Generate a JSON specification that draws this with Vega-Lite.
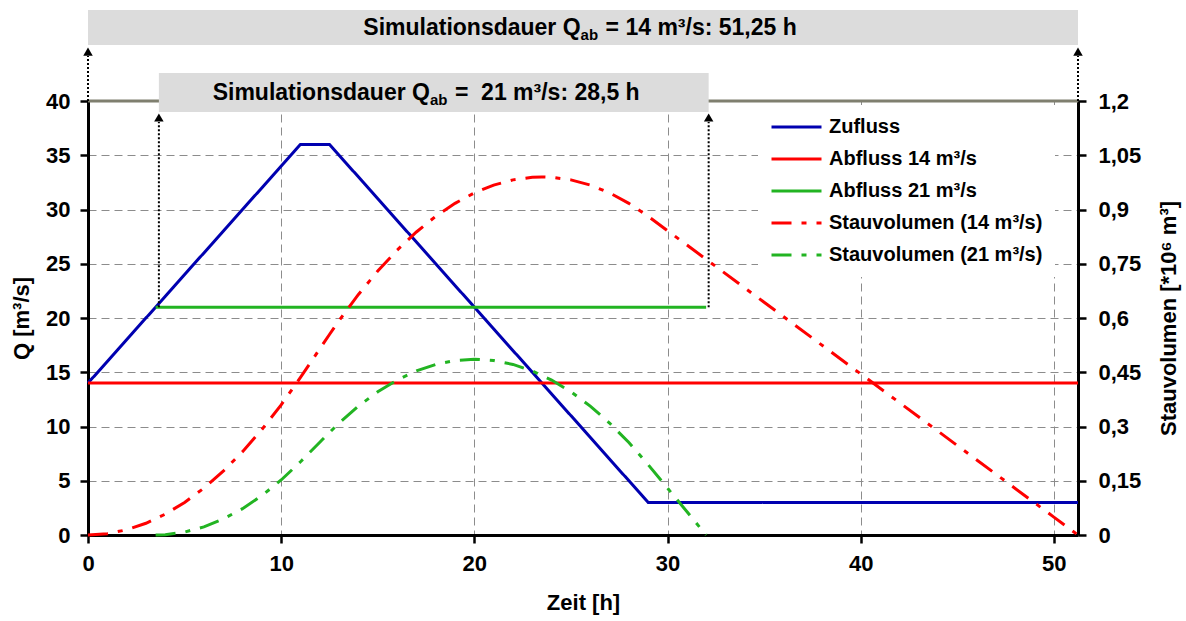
{
"$schema":"https://vega.github.io/schema/vega-lite/v6.json",
"width":990,"height":434,
"autosize":{"type":"none"},
"padding":{"left":88,"top":101,"right":108,"bottom":86},
"background":"white",
"config":{
  "view":{"stroke":null},
  "font":"Liberation Sans",
  "axis":{"labelFont":"Liberation Sans","labelFontSize":22,"labelFontWeight":"bold","labelColor":"black","labelFlush":false,"titleFont":"Liberation Sans","titleFontSize":22,"titleFontWeight":"bold","titleColor":"black","domainColor":"black","domainWidth":3,"tickColor":"black","tickWidth":2.5,"tickSize":8,"gridColor":"#8c8c8c","gridDash":[8,5],"gridWidth":1,"labelPadding":10}
},
"datasets":{
  "q":[
    {"t":0,"Q":14,"s":"Zufluss"},{"t":11,"Q":36,"s":"Zufluss"},{"t":12.5,"Q":36,"s":"Zufluss"},{"t":29,"Q":3,"s":"Zufluss"},{"t":51.25,"Q":3,"s":"Zufluss"},
    {"t":0,"Q":14,"s":"Abfluss 14 m³/s"},{"t":51.25,"Q":14,"s":"Abfluss 14 m³/s"},
    {"t":3.5,"Q":21,"s":"Abfluss 21 m³/s"},{"t":32,"Q":21,"s":"Abfluss 21 m³/s"}
  ],
  "v":[
    {"t":0,"V":0,"s":"Stauvolumen (14 m³/s)"},{"t":1,"V":0.0036,"s":"Stauvolumen (14 m³/s)"},{"t":2,"V":0.0144,"s":"Stauvolumen (14 m³/s)"},{"t":3,"V":0.0324,"s":"Stauvolumen (14 m³/s)"},{"t":4,"V":0.0576,"s":"Stauvolumen (14 m³/s)"},{"t":5,"V":0.09,"s":"Stauvolumen (14 m³/s)"},{"t":6,"V":0.1296,"s":"Stauvolumen (14 m³/s)"},{"t":7,"V":0.1764,"s":"Stauvolumen (14 m³/s)"},{"t":8,"V":0.2304,"s":"Stauvolumen (14 m³/s)"},{"t":9,"V":0.2916,"s":"Stauvolumen (14 m³/s)"},{"t":10,"V":0.36,"s":"Stauvolumen (14 m³/s)"},{"t":11,"V":0.4356,"s":"Stauvolumen (14 m³/s)"},{"t":12,"V":0.5148,"s":"Stauvolumen (14 m³/s)"},{"t":12.5,"V":0.5544,"s":"Stauvolumen (14 m³/s)"},{"t":13,"V":0.5931,"s":"Stauvolumen (14 m³/s)"},{"t":14,"V":0.6651,"s":"Stauvolumen (14 m³/s)"},{"t":15,"V":0.7299,"s":"Stauvolumen (14 m³/s)"},{"t":16,"V":0.7875,"s":"Stauvolumen (14 m³/s)"},{"t":17,"V":0.8379,"s":"Stauvolumen (14 m³/s)"},{"t":18,"V":0.8811,"s":"Stauvolumen (14 m³/s)"},{"t":19,"V":0.9171,"s":"Stauvolumen (14 m³/s)"},{"t":20,"V":0.9459,"s":"Stauvolumen (14 m³/s)"},{"t":21,"V":0.9675,"s":"Stauvolumen (14 m³/s)"},{"t":22,"V":0.9819,"s":"Stauvolumen (14 m³/s)"},{"t":23,"V":0.9891,"s":"Stauvolumen (14 m³/s)"},{"t":23.5,"V":0.99,"s":"Stauvolumen (14 m³/s)"},{"t":24,"V":0.9891,"s":"Stauvolumen (14 m³/s)"},{"t":25,"V":0.9819,"s":"Stauvolumen (14 m³/s)"},{"t":26,"V":0.9675,"s":"Stauvolumen (14 m³/s)"},{"t":27,"V":0.9459,"s":"Stauvolumen (14 m³/s)"},{"t":28,"V":0.9171,"s":"Stauvolumen (14 m³/s)"},{"t":29,"V":0.8811,"s":"Stauvolumen (14 m³/s)"},{"t":35,"V":0.6435,"s":"Stauvolumen (14 m³/s)"},{"t":40,"V":0.4455,"s":"Stauvolumen (14 m³/s)"},{"t":45,"V":0.2475,"s":"Stauvolumen (14 m³/s)"},{"t":50,"V":0.0495,"s":"Stauvolumen (14 m³/s)"},{"t":51.25,"V":0,"s":"Stauvolumen (14 m³/s)"},
    {"t":3.5,"V":0,"s":"Stauvolumen (21 m³/s)"},{"t":4,"V":0.0009,"s":"Stauvolumen (21 m³/s)"},{"t":5,"V":0.0081,"s":"Stauvolumen (21 m³/s)"},{"t":6,"V":0.0225,"s":"Stauvolumen (21 m³/s)"},{"t":7,"V":0.0441,"s":"Stauvolumen (21 m³/s)"},{"t":8,"V":0.0729,"s":"Stauvolumen (21 m³/s)"},{"t":9,"V":0.1089,"s":"Stauvolumen (21 m³/s)"},{"t":10,"V":0.1521,"s":"Stauvolumen (21 m³/s)"},{"t":11,"V":0.2025,"s":"Stauvolumen (21 m³/s)"},{"t":12,"V":0.2565,"s":"Stauvolumen (21 m³/s)"},{"t":12.5,"V":0.2835,"s":"Stauvolumen (21 m³/s)"},{"t":13,"V":0.3096,"s":"Stauvolumen (21 m³/s)"},{"t":14,"V":0.3564,"s":"Stauvolumen (21 m³/s)"},{"t":15,"V":0.396,"s":"Stauvolumen (21 m³/s)"},{"t":16,"V":0.4284,"s":"Stauvolumen (21 m³/s)"},{"t":17,"V":0.4536,"s":"Stauvolumen (21 m³/s)"},{"t":18,"V":0.4716,"s":"Stauvolumen (21 m³/s)"},{"t":19,"V":0.4824,"s":"Stauvolumen (21 m³/s)"},{"t":20,"V":0.486,"s":"Stauvolumen (21 m³/s)"},{"t":21,"V":0.4824,"s":"Stauvolumen (21 m³/s)"},{"t":22,"V":0.4716,"s":"Stauvolumen (21 m³/s)"},{"t":23,"V":0.4536,"s":"Stauvolumen (21 m³/s)"},{"t":24,"V":0.4284,"s":"Stauvolumen (21 m³/s)"},{"t":25,"V":0.396,"s":"Stauvolumen (21 m³/s)"},{"t":26,"V":0.3564,"s":"Stauvolumen (21 m³/s)"},{"t":27,"V":0.3096,"s":"Stauvolumen (21 m³/s)"},{"t":28,"V":0.2556,"s":"Stauvolumen (21 m³/s)"},{"t":29,"V":0.1944,"s":"Stauvolumen (21 m³/s)"},{"t":30,"V":0.1296,"s":"Stauvolumen (21 m³/s)"},{"t":31,"V":0.0648,"s":"Stauvolumen (21 m³/s)"},{"t":32,"V":0,"s":"Stauvolumen (21 m³/s)"}
  ],
  "banners":[
    {"x1":0,"x2":51.25,"y1":45.16,"y2":48.39,"tx":25.5,"ty":46.77,"a":"Simulationsdauer Q","b":"ab","c":"= 14 m³/s: 51,25 h"},
    {"x1":3.67,"x2":32.13,"y1":38.99,"y2":42.58,"tx":17.7,"ty":40.78,"a":"Simulationsdauer Q","b":"ab","c":"=\u00a0\u00a021 m³/s: 28,5 h"}
  ],
  "arrows":[
    {"x":0,"y1":40,"y2":44.15,"ya":44.56},
    {"x":51.25,"y1":40,"y2":44.15,"ya":44.56},
    {"x":3.67,"y1":21,"y2":38.06,"ya":38.48},
    {"x":32.13,"y1":21,"y2":38.06,"ya":38.48}
  ],
  "top":[{"Q":40}]
},
"layer":[
 {"layer":[
   {"data":{"name":"q"},
    "mark":{"type":"line","strokeWidth":3},
    "encoding":{
      "x":{"field":"t","type":"quantitative","scale":{"domain":[0,51.25],"nice":false,"zero":false},
           "axis":{"title":"Zeit [h]","values":[0,10,20,30,40,50],"grid":true,"titlePadding":18}},
      "y":{"field":"Q","type":"quantitative","scale":{"domain":[0,40],"nice":false},
           "axis":{"title":"Q [m³/s]","values":[0,5,10,15,20,25,30,35,40],"grid":true,"titlePadding":12}},
      "color":{"field":"s","type":"nominal","scale":{"domain":["Zufluss","Abfluss 14 m³/s","Abfluss 21 m³/s","Stauvolumen (14 m³/s)","Stauvolumen (21 m³/s)"],"range":["#0000b0","#ff0000","#22b422","#ff0000","#22b422"]},
               "legend":{"title":null,"orient":"none","legendX":670,"legendY":4,"fillColor":"white","padding":12,"symbolType":"stroke","symbolSize":2500,"symbolStrokeWidth":3,"clipHeight":20,"labelFont":"Liberation Sans","labelFontSize":20,"labelFontWeight":"bold","labelColor":"black","labelLimit":400,"rowPadding":12,"labelOffset":6}},
      "strokeDash":{"field":"s","type":"nominal","scale":{"domain":["Zufluss","Abfluss 14 m³/s","Abfluss 21 m³/s","Stauvolumen (14 m³/s)","Stauvolumen (21 m³/s)"],"range":[[1,0],[1,0],[1,0],[20,10,5,10],[20,10,5,10]]},
               "legend":{"title":null,"orient":"none","legendX":670,"legendY":4,"fillColor":"white","padding":12,"symbolType":"stroke","symbolSize":2500,"symbolStrokeWidth":3,"clipHeight":20,"labelFont":"Liberation Sans","labelFontSize":20,"labelFontWeight":"bold","labelColor":"black","labelLimit":400,"rowPadding":12,"labelOffset":6}}
    }},
   {"data":{"name":"top"},
    "mark":{"type":"rule","color":"#7f7f6f","strokeWidth":3},
    "encoding":{"y":{"field":"Q","type":"quantitative"}}},
   {"data":{"name":"arrows"},
    "mark":{"type":"rule","color":"black","strokeWidth":2,"strokeDash":[2,2]},
    "encoding":{
      "x":{"field":"x","type":"quantitative"},
      "y":{"field":"y1","type":"quantitative"},
      "y2":{"field":"y2"}}},
   {"data":{"name":"arrows"},
    "mark":{"type":"point","shape":"triangle-up","filled":true,"color":"black","size":90,"opacity":1},
    "encoding":{
      "x":{"field":"x","type":"quantitative"},
      "y":{"field":"ya","type":"quantitative"}}},
   {"data":{"name":"banners"},
    "mark":{"type":"rect","color":"#dcdcdc"},
    "encoding":{
      "x":{"field":"x1","type":"quantitative"},
      "x2":{"field":"x2"},
      "y":{"field":"y1","type":"quantitative"},
      "y2":{"field":"y2"}}},
   {"data":{"name":"banners"},
    "mark":{"type":"text","font":"Liberation Sans","fontSize":23,"fontWeight":"bold","color":"black","align":"right","baseline":"middle"},
    "encoding":{
      "x":{"field":"tx","type":"quantitative"},
      "y":{"field":"ty","type":"quantitative"},
      "text":{"field":"a"}}},
   {"data":{"name":"banners"},
    "mark":{"type":"text","font":"Liberation Sans","fontSize":15,"fontWeight":"bold","color":"black","align":"left","baseline":"middle","dy":7},
    "encoding":{
      "x":{"field":"tx","type":"quantitative"},
      "y":{"field":"ty","type":"quantitative"},
      "text":{"field":"b"}}},
   {"data":{"name":"banners"},
    "mark":{"type":"text","font":"Liberation Sans","fontSize":23,"fontWeight":"bold","color":"black","align":"left","baseline":"middle","dx":25},
    "encoding":{
      "x":{"field":"tx","type":"quantitative"},
      "y":{"field":"ty","type":"quantitative"},
      "text":{"field":"c"}}}
 ]},
 {"data":{"name":"v"},
  "mark":{"type":"line","strokeWidth":3},
  "encoding":{
    "x":{"field":"t","type":"quantitative"},
    "y":{"field":"V","type":"quantitative","scale":{"domain":[0,1.2],"nice":false},
         "axis":{"orient":"right","title":"Stauvolumen [*10⁶ m³]","values":[0,0.15,0.3,0.45,0.6,0.75,0.9,1.05,1.2],"grid":false,"labelExpr":"replace(format(datum.value, '.2~f'), '.', ',')","titleAngle":270,"titleBaseline":"top","titlePadding":18,"labelPadding":12}},
    "color":{"field":"s","type":"nominal"},
    "strokeDash":{"field":"s","type":"nominal"}
  }}
],
"resolve":{"scale":{"y":"independent"}}
}
